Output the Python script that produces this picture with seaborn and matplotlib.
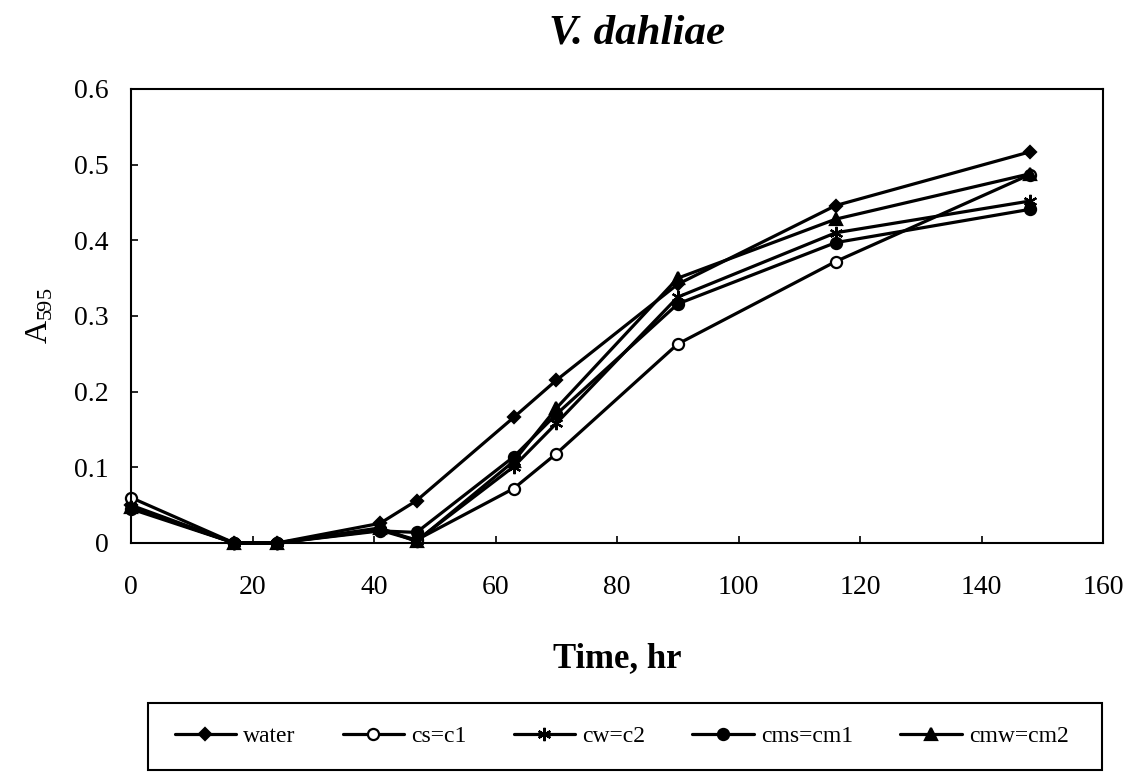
import matplotlib
matplotlib.use("Agg")
import matplotlib.pyplot as plt
from matplotlib.patches import Rectangle
import seaborn as sns
import pandas as pd
import numpy as np

time_hr = [0, 17, 24, 41, 47, 63, 70, 90, 116, 148]
water = [0.050, 0.0, 0.0, 0.026, 0.056, 0.166, 0.215, 0.342, 0.446, 0.517]
cs_c1 = [0.060, 0.0, 0.0, 0.018, 0.004, 0.072, 0.118, 0.263, 0.372, 0.487]
cw_c2 = [0.047, 0.0, 0.0, 0.017, 0.003, 0.101, 0.158, 0.325, 0.410, 0.452]
cms_cm1 = [0.045, 0.0, 0.0, 0.016, 0.014, 0.114, 0.170, 0.316, 0.397, 0.441]
cmw_cm2 = [0.048, 0.0, 0.0, 0.020, 0.002, 0.108, 0.178, 0.350, 0.428, 0.488]

series_names = ["water", "cs=c1", "cw=c2", "cms=cm1", "cmw=cm2"]
series_values = [water, cs_c1, cw_c2, cms_cm1, cmw_cm2]

x_ticks = [0, 20, 40, 60, 80, 100, 120, 140, 160]
y_ticks = [0, 0.1, 0.2, 0.3, 0.4, 0.5, 0.6]
y_tick_labels = ["0", "0.1", "0.2", "0.3", "0.4", "0.5", "0.6"]

rows = []
for name, vals in zip(series_names, series_values):
    for t, v in zip(time_hr, vals):
        rows.append({"Time": t, "A": v, "series": name})
df = pd.DataFrame(rows)

sns.set_theme(style="ticks")
plt.rcParams["font.family"] = ["Liberation Serif", "DejaVu Serif"]
plt.rcParams["mathtext.fontset"] = "custom"
plt.rcParams["mathtext.rm"] = "Liberation Serif"
plt.rcParams["text.color"] = "black"
plt.rcParams["axes.labelcolor"] = "black"
plt.rcParams["xtick.color"] = "black"
plt.rcParams["ytick.color"] = "black"

styles = {
    "water": dict(marker="D", mfc="black", ms=8),
    "cs=c1": dict(marker="o", mfc="white", ms=10),
    "cw=c2": dict(marker=(6, 2, 0), mfc="black", ms=12),
    "cms=cm1": dict(marker="o", mfc="black", ms=10),
    "cmw=cm2": dict(marker="^", mfc="black", ms=11),
}

fig = plt.figure(figsize=(11.36, 7.84), dpi=100)
ax = fig.add_axes([131 / 1136, 1 - 543 / 784, (1103 - 131) / 1136, (543 - 89) / 784])

for name in series_names:
    st = styles[name]
    sns.lineplot(data=df[df["series"] == name], x="Time", y="A", ax=ax,
                 color="black", linewidth=2.3, marker=st["marker"],
                 markersize=st["ms"], markerfacecolor=st["mfc"],
                 markeredgecolor="black", markeredgewidth=1.6,
                 label=name, legend=False, clip_on=False)

ax.set_xlim(0, 160)
ax.set_ylim(0, 0.6)
ax.set_xticks(x_ticks)
ax.set_yticks(y_ticks)
ax.set_yticklabels(y_tick_labels)
ax.tick_params(axis="both", direction="in", length=5, width=1.2,
               labelsize=20, color="black", labelcolor="black",
               left=True, bottom=True)
ax.tick_params(axis="y", pad=16)
ax.tick_params(axis="x", pad=23)
for s in ax.spines.values():
    s.set_visible(True)
    s.set_color("black")
    s.set_linewidth(1.5)

ax.set_xlabel("Time, hr", fontsize=25, fontweight="bold", labelpad=30)
ax.set_ylabel(r"A$_{595}$", fontsize=23, labelpad=14)
fig.text(637 / 1136, 1 - 34 / 784, "V. dahliae", fontsize=31, fontweight="bold",
         fontstyle="italic", ha="center", va="center")

# legend box
x0, y0 = 148 / 1136, 1 - 770 / 784
w, h = (1102 - 148) / 1136, (770 - 703) / 784
fig.add_artist(Rectangle((x0, y0), w, h, transform=fig.transFigure,
                         fill=False, edgecolor="black", linewidth=1.5))
handles, labels = ax.get_legend_handles_labels()
for hnd in handles:
    hnd.set_markersize(hnd.get_markersize() * 0.8)
fig.legend(handles, labels, loc="center", bbox_to_anchor=(x0 + w / 2 - 0.003, y0 + h / 2),
           ncol=5, frameon=False, fontsize=17, handlelength=2.6,
           handletextpad=0.3, columnspacing=2.0)

fig.savefig("out.png", dpi=100)
